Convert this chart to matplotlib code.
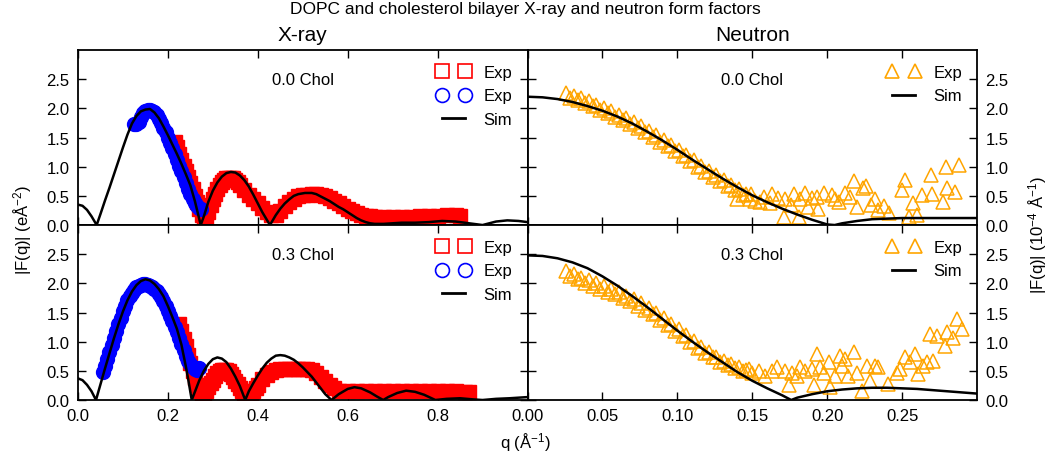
import numpy as np
import matplotlib.pyplot as plt
from matplotlib.lines import Line2D

plt.rcParams['font.family'] = ['Liberation Sans', 'DejaVu Sans']
plt.rcParams['mathtext.fontset'] = 'custom'
plt.rcParams['mathtext.rm'] = 'Liberation Sans'
plt.rcParams['mathtext.default'] = 'regular'
plt.rcParams['axes.linewidth'] = 1.3

# ---- X-ray, 0.0 Chol : (q, |F|) ----
xr0_red = [(0.215, 1.42), (0.22, 1.33), (0.225, 1.22), (0.23, 1.12), (0.235, 1.02), (0.24, 0.92),
           (0.245, 0.82), (0.25, 0.72), (0.255, 0.61), (0.26, 0.50), (0.265, 0.39), (0.27, 0.28),
           (0.275, 0.18), (0.28, 0.10), (0.285, 0.13), (0.29, 0.23), (0.295, 0.34), (0.30, 0.44),
           (0.305, 0.53), (0.31, 0.61), (0.315, 0.68), (0.32, 0.73), (0.325, 0.77), (0.33, 0.80),
           (0.335, 0.81), (0.34, 0.81), (0.345, 0.80), (0.35, 0.77), (0.355, 0.73), (0.36, 0.68),
           (0.37, 0.60), (0.38, 0.52), (0.39, 0.44), (0.40, 0.37), (0.41, 0.29), (0.42, 0.22),
           (0.43, 0.17), (0.44, 0.18), (0.45, 0.24), (0.46, 0.32), (0.47, 0.39), (0.48, 0.45),
           (0.49, 0.49), (0.50, 0.51), (0.51, 0.52), (0.52, 0.53), (0.53, 0.53), (0.54, 0.52),
           (0.55, 0.50), (0.56, 0.46), (0.57, 0.42), (0.58, 0.37), (0.59, 0.32), (0.60, 0.28),
           (0.61, 0.24), (0.62, 0.21), (0.63, 0.18), (0.64, 0.16), (0.65, 0.15), (0.66, 0.14),
           (0.68, 0.14), (0.70, 0.14), (0.72, 0.14), (0.74, 0.14), (0.76, 0.15), (0.78, 0.15),
           (0.80, 0.16), (0.82, 0.17), (0.84, 0.17), (0.85, 0.16)]
xr0_blue = [(0.125, 1.74), (0.13, 1.74), (0.135, 1.77), (0.14, 1.85), (0.145, 1.92), (0.15, 1.96),
            (0.155, 1.98), (0.16, 1.98), (0.165, 1.96), (0.17, 1.93), (0.175, 1.88), (0.18, 1.82),
            (0.185, 1.75), (0.19, 1.67), (0.195, 1.59), (0.20, 1.50), (0.205, 1.41), (0.21, 1.32),
            (0.215, 1.22), (0.22, 1.12), (0.225, 1.02), (0.23, 0.92), (0.235, 0.82), (0.24, 0.72),
            (0.245, 0.62), (0.25, 0.53), (0.255, 0.45), (0.26, 0.38), (0.265, 0.33), (0.27, 0.30),
            (0.273, 0.28)]
xr0_sim = [(0.0, 0.35), (0.01, 0.33), (0.02, 0.26), (0.03, 0.15), (0.0415, 0.0), (0.05, 0.19),
           (0.06, 0.42), (0.07, 0.64), (0.08, 0.87), (0.09, 1.10), (0.10, 1.33), (0.11, 1.55),
           (0.12, 1.74), (0.13, 1.87), (0.14, 1.95), (0.15, 1.98), (0.16, 1.99), (0.17, 1.93),
           (0.18, 1.83), (0.19, 1.69), (0.20, 1.54), (0.21, 1.38), (0.22, 1.22), (0.23, 1.05),
           (0.24, 0.87), (0.25, 0.68), (0.26, 0.41), (0.273, 0.0), (0.28, 0.15), (0.29, 0.40),
           (0.30, 0.59), (0.31, 0.73), (0.32, 0.83), (0.33, 0.89), (0.34, 0.91), (0.35, 0.90),
           (0.36, 0.85), (0.37, 0.77), (0.38, 0.66), (0.39, 0.52), (0.40, 0.37), (0.41, 0.22),
           (0.427, 0.0), (0.44, 0.17), (0.45, 0.28), (0.46, 0.37), (0.47, 0.44), (0.48, 0.50),
           (0.49, 0.53), (0.505, 0.55), (0.52, 0.55), (0.53, 0.53), (0.54, 0.49), (0.55, 0.45),
           (0.56, 0.41), (0.57, 0.36), (0.58, 0.31), (0.59, 0.27), (0.60, 0.22), (0.61, 0.17),
           (0.62, 0.12), (0.63, 0.08), (0.64, 0.05), (0.65, 0.03), (0.66, 0.02), (0.68, 0.02),
           (0.72, 0.04), (0.75, 0.04), (0.78, 0.05), (0.81, 0.07), (0.84, 0.06), (0.87, 0.03),
           (0.90, 0.0), (0.93, 0.06), (0.955, 0.08), (0.98, 0.07), (1.0, 0.05)]

# ---- X-ray, 0.3 Chol ----
xr3_red = [(0.225, 1.30), (0.23, 1.18), (0.235, 1.05), (0.24, 0.92), (0.245, 0.78), (0.25, 0.64),
           (0.255, 0.50), (0.26, 0.37), (0.265, 0.25), (0.27, 0.15), (0.275, 0.10), (0.28, 0.11),
           (0.285, 0.16), (0.29, 0.22), (0.295, 0.29), (0.30, 0.35), (0.305, 0.41), (0.31, 0.46),
           (0.315, 0.49), (0.32, 0.51), (0.325, 0.52), (0.33, 0.51), (0.335, 0.49), (0.34, 0.45),
           (0.345, 0.39), (0.35, 0.33), (0.355, 0.27), (0.36, 0.21), (0.365, 0.16), (0.37, 0.12),
           (0.375, 0.10), (0.38, 0.09), (0.385, 0.11), (0.39, 0.15), (0.395, 0.20), (0.40, 0.26),
           (0.41, 0.36), (0.42, 0.43), (0.43, 0.48), (0.44, 0.51), (0.45, 0.53), (0.46, 0.54),
           (0.47, 0.54), (0.48, 0.54), (0.49, 0.54), (0.50, 0.54), (0.51, 0.53), (0.52, 0.51),
           (0.53, 0.46), (0.54, 0.40), (0.55, 0.33), (0.56, 0.26), (0.57, 0.20), (0.58, 0.16),
           (0.60, 0.15), (0.62, 0.15), (0.64, 0.15), (0.66, 0.15), (0.68, 0.15), (0.70, 0.15),
           (0.72, 0.15), (0.74, 0.16), (0.76, 0.16), (0.78, 0.16), (0.80, 0.15), (0.82, 0.15),
           (0.84, 0.15), (0.86, 0.14), (0.87, 0.13)]
xr3_blue = [(0.055, 0.48), (0.06, 0.58), (0.065, 0.70), (0.07, 0.82), (0.075, 0.94), (0.08, 1.06),
            (0.085, 1.18), (0.09, 1.30), (0.095, 1.41), (0.10, 1.52), (0.105, 1.62), (0.11, 1.71),
            (0.115, 1.78), (0.12, 1.84), (0.125, 1.89), (0.13, 1.93), (0.135, 1.96), (0.14, 1.98),
            (0.145, 1.99), (0.15, 1.99), (0.155, 1.98), (0.16, 1.96), (0.165, 1.94), (0.17, 1.91),
            (0.175, 1.87), (0.18, 1.82), (0.185, 1.76), (0.19, 1.69), (0.195, 1.61), (0.20, 1.53),
            (0.205, 1.44), (0.21, 1.35), (0.215, 1.26), (0.22, 1.17), (0.225, 1.07), (0.23, 0.96),
            (0.235, 0.85), (0.24, 0.75), (0.245, 0.67), (0.25, 0.61), (0.255, 0.56), (0.26, 0.53),
            (0.265, 0.52), (0.27, 0.55)]
xr3_sim = [(0.0, 0.37), (0.01, 0.34), (0.02, 0.26), (0.03, 0.15), (0.04, 0.0), (0.05, 0.27),
           (0.06, 0.54), (0.07, 0.80), (0.08, 1.06), (0.09, 1.30), (0.10, 1.52), (0.11, 1.71),
           (0.12, 1.86), (0.13, 1.97), (0.14, 2.04), (0.15, 2.07), (0.16, 2.05), (0.17, 1.99),
           (0.18, 1.90), (0.19, 1.78), (0.20, 1.61), (0.21, 1.42), (0.22, 1.22), (0.23, 0.95),
           (0.24, 0.57), (0.245, 0.36), (0.253, 0.0), (0.26, 0.14), (0.27, 0.34), (0.28, 0.50),
           (0.29, 0.62), (0.30, 0.70), (0.31, 0.73), (0.32, 0.71), (0.33, 0.65), (0.34, 0.54),
           (0.35, 0.40), (0.36, 0.24), (0.372, 0.0), (0.38, 0.15), (0.39, 0.29), (0.40, 0.42),
           (0.41, 0.54), (0.42, 0.64), (0.43, 0.71), (0.44, 0.76), (0.45, 0.77), (0.46, 0.76),
           (0.47, 0.73), (0.48, 0.69), (0.49, 0.63), (0.50, 0.56), (0.51, 0.48), (0.52, 0.40),
           (0.53, 0.30), (0.54, 0.20), (0.55, 0.10), (0.564, 0.0), (0.58, 0.10), (0.60, 0.19),
           (0.615, 0.22), (0.63, 0.20), (0.65, 0.13), (0.665, 0.06), (0.679, 0.0), (0.69, 0.05),
           (0.71, 0.12), (0.73, 0.16), (0.75, 0.14), (0.77, 0.09), (0.795, 0.0), (0.82, 0.02),
           (0.85, 0.03), (0.88, 0.01), (0.90, 0.0), (0.93, 0.02), (0.96, 0.03), (1.0, 0.05)]

# ---- Neutron, 0.0 Chol ----
nt0_exp = [(0.026, 2.27), (0.0285, 2.18), (0.031, 2.22), (0.0335, 2.14), (0.036, 2.17), (0.0385, 2.09),
           (0.041, 2.12), (0.0435, 2.04), (0.046, 2.06), (0.0485, 1.98), (0.051, 2.01), (0.0535, 1.92),
           (0.056, 1.95), (0.0585, 1.86), (0.061, 1.89), (0.0635, 1.80), (0.066, 1.83), (0.0685, 1.73),
           (0.071, 1.76), (0.0735, 1.66), (0.076, 1.69), (0.0785, 1.59), (0.081, 1.62), (0.0835, 1.51),
           (0.086, 1.54), (0.0885, 1.43), (0.091, 1.46), (0.0935, 1.35), (0.096, 1.38), (0.0985, 1.27),
           (0.101, 1.29), (0.1035, 1.18), (0.106, 1.20), (0.1085, 1.09), (0.111, 1.11), (0.1135, 1.00),
           (0.116, 1.02), (0.1185, 0.91), (0.121, 0.93), (0.1235, 0.83), (0.126, 0.85), (0.1285, 0.75),
           (0.131, 0.77), (0.1335, 0.67), (0.136, 0.69), (0.1385, 0.60), (0.141, 0.61), (0.1435, 0.52),
           (0.146, 0.54), (0.1485, 0.45),
           (0.140, 0.45), (0.149, 0.54), (0.152, 0.42), (0.155, 0.40), (0.158, 0.48), (0.162, 0.37),
           (0.163, 0.54), (0.167, 0.46), (0.171, 0.14), (0.172, 0.45), (0.176, 0.34), (0.178, 0.54),
           (0.181, 0.13), (0.182, 0.45), (0.185, 0.55), (0.187, 0.31), (0.190, 0.46), (0.193, 0.48),
           (0.194, 0.28), (0.198, 0.55), (0.203, 0.51), (0.205, 0.44), (0.208, 0.40), (0.212, 0.55),
           (0.215, 0.48), (0.218, 0.76), (0.220, 0.31), (0.224, 0.63), (0.226, 0.67), (0.229, 0.34),
           (0.232, 0.45), (0.234, 0.25), (0.238, 0.33), (0.241, 0.20), (0.250, 0.60), (0.252, 0.77),
           (0.2545, 0.14), (0.257, 0.37), (0.260, 0.17), (0.263, 0.51), (0.269, 0.86), (0.270, 0.54),
           (0.277, 0.40), (0.279, 0.99), (0.280, 0.63), (0.285, 0.57), (0.288, 1.03)]
nt0_sim = [(0.0, 2.20), (0.01, 2.19), (0.02, 2.16), (0.03, 2.11), (0.04, 2.04), (0.05, 1.96),
           (0.06, 1.86), (0.07, 1.74), (0.08, 1.60), (0.09, 1.45), (0.10, 1.29), (0.11, 1.12),
           (0.12, 0.96), (0.13, 0.80), (0.14, 0.65), (0.15, 0.51), (0.16, 0.39), (0.17, 0.28),
           (0.18, 0.18), (0.19, 0.09), (0.20, 0.01), (0.205, 0.0), (0.21, 0.03), (0.22, 0.07),
           (0.23, 0.10), (0.24, 0.11), (0.25, 0.12), (0.26, 0.12), (0.27, 0.12), (0.28, 0.12),
           (0.29, 0.12), (0.30, 0.12)]

# ---- Neutron, 0.3 Chol ----
nt3_exp = [(0.026, 2.22), (0.0285, 2.13), (0.031, 2.16), (0.0335, 2.07), (0.036, 2.10), (0.0385, 2.01),
           (0.041, 2.05), (0.0435, 1.96), (0.046, 2.00), (0.0485, 1.91), (0.051, 1.95), (0.0535, 1.86),
           (0.056, 1.90), (0.0585, 1.81), (0.061, 1.85), (0.0635, 1.75), (0.066, 1.79), (0.0685, 1.69),
           (0.071, 1.73), (0.0735, 1.62), (0.076, 1.66), (0.0785, 1.55), (0.081, 1.58), (0.0835, 1.47),
           (0.086, 1.50), (0.0885, 1.38), (0.091, 1.41), (0.0935, 1.29), (0.096, 1.31), (0.0985, 1.19),
           (0.101, 1.21), (0.1035, 1.09), (0.106, 1.11), (0.1085, 0.99), (0.111, 1.01), (0.1135, 0.90),
           (0.116, 0.91), (0.1185, 0.81), (0.121, 0.82), (0.1235, 0.73), (0.126, 0.74), (0.1285, 0.66),
           (0.131, 0.67), (0.1335, 0.60), (0.136, 0.61), (0.1385, 0.55), (0.141, 0.56), (0.1435, 0.50),
           (0.146, 0.51),
           (0.1476, 0.53), (0.1498, 0.47), (0.1542, 0.50), (0.1587, 0.42), (0.1631, 0.50), (0.1664, 0.56),
           (0.172, 0.50), (0.1742, 0.25), (0.1764, 0.47), (0.1798, 0.42), (0.182, 0.56), (0.1853, 0.50),
           (0.1898, 0.53), (0.1909, 0.25), (0.1931, 0.79), (0.1953, 0.56), (0.1976, 0.47), (0.2009, 0.65),
           (0.202, 0.22), (0.2053, 0.42), (0.2087, 0.76), (0.2098, 0.59), (0.212, 0.70), (0.2142, 0.42),
           (0.2176, 0.82), (0.2198, 0.47), (0.2231, 0.16), (0.2264, 0.59), (0.2287, 0.33), (0.232, 0.59),
           (0.2342, 0.56), (0.2409, 0.27), (0.2464, 0.47), (0.2487, 0.53), (0.252, 0.73), (0.2553, 0.65),
           (0.2587, 0.79), (0.2609, 0.45), (0.2642, 0.59), (0.2664, 0.65), (0.2709, 0.67), (0.2687, 1.13),
           (0.2731, 1.10), (0.2787, 0.93), (0.2798, 1.16), (0.2842, 1.07), (0.2864, 1.39), (0.2898, 1.22)]
nt3_sim = [(0.0, 2.48), (0.01, 2.47), (0.02, 2.43), (0.03, 2.36), (0.04, 2.26), (0.05, 2.12),
           (0.06, 1.96), (0.07, 1.78), (0.08, 1.59), (0.09, 1.39), (0.10, 1.19), (0.11, 1.00),
           (0.12, 0.82), (0.13, 0.65), (0.14, 0.48), (0.15, 0.33), (0.16, 0.20), (0.17, 0.08),
           (0.176, 0.0), (0.18, 0.04), (0.19, 0.10), (0.20, 0.15), (0.21, 0.18), (0.22, 0.20),
           (0.23, 0.21), (0.24, 0.21), (0.25, 0.20), (0.26, 0.19), (0.27, 0.17), (0.28, 0.15),
           (0.29, 0.13), (0.30, 0.11)]

chol_labels = ['0.0 Chol', '0.3 Chol']
col_titles = ['X-ray', 'Neutron']


def unpack(pairs):
    arr = np.array(pairs)
    return arr[:, 0], arr[:, 1]


fig, ax = plt.subplots(2, 2, figsize=(10.5, 4.56), dpi=100)
fig.subplots_adjust(left=0.0743, right=0.9305, top=0.888, bottom=0.1206, wspace=0, hspace=0)

xray_sets = [(xr0_red, xr0_blue, xr0_sim), (xr3_red, xr3_blue, xr3_sim)]
neut_sets = [(nt0_exp, nt0_sim), (nt3_exp, nt3_sim)]

xray_handles = [Line2D([], [], ls='none', marker='s', ms=10, mfc='none', mec='red', mew=1.2),
                Line2D([], [], ls='none', marker='o', ms=10, mfc='none', mec='blue', mew=1.2),
                Line2D([], [], color='k', lw=2)]
neut_handles = [Line2D([], [], ls='none', marker='^', ms=10, mfc='none', mec='orange', mew=1.2),
                Line2D([], [], color='k', lw=2)]

for i in range(2):
    # X-ray column
    a = ax[i, 0]
    red, blue, sim = xray_sets[i]
    q, f = unpack(red)
    a.plot(q, f, ls='none', marker='s', ms=10, mfc='red', mec='red', mew=1)
    q, f = unpack(blue)
    a.plot(q, f, ls='none', marker='o', ms=10, mfc='blue', mec='blue', mew=1)
    q, f = unpack(sim)
    a.plot(q, f, color='k', lw=1.8)
    a.set_xlim(0, 1.0)
    a.set_xticks([0.0, 0.2, 0.4, 0.6, 0.8])
    a.legend(xray_handles, ['Exp', 'Exp', 'Sim'], loc='upper right', frameon=False,
             numpoints=2, fontsize=12)

    # Neutron column
    a = ax[i, 1]
    exp, sim = neut_sets[i]
    q, f = unpack(exp)
    a.plot(q, f, ls='none', marker='^', ms=10, mfc='none', mec='orange', mew=1.1)
    q, f = unpack(sim)
    a.plot(q, f, color='k', lw=1.8)
    a.set_xlim(0, 0.3)
    a.set_xticks([0.0, 0.05, 0.10, 0.15, 0.20, 0.25])
    a.legend(neut_handles, ['Exp', 'Sim'], loc='upper right', frameon=False,
             numpoints=2, fontsize=12)

for i in range(2):
    for j in range(2):
        a = ax[i, j]
        a.set_ylim(0, 3.0)
        a.set_yticks([0.0, 0.5, 1.0, 1.5, 2.0, 2.5])
        a.tick_params(direction='in', top=True, right=True, length=6, width=1,
                      labelsize=12, pad=6)
        a.text(0.5, 0.83, chol_labels[i], transform=a.transAxes, ha='center', va='center',
               fontsize=12)
        if i == 0:
            a.tick_params(labelbottom=False)
        if j == 1:
            a.tick_params(labelleft=False, labelright=True)

for j in range(2):
    ax[0, j].set_title(col_titles[j], fontsize=15, pad=7)

fig.suptitle('DOPC and cholesterol bilayer X-ray and neutron form factors', fontsize=12.5, y=0.995)
fig.text(0.022, 0.495, '|F(q)| (eÅ$^{-2}$)', rotation=90, ha='center', va='center', fontsize=12)
fig.text(0.988, 0.485, '|F(q)| (10$^{-4}$ Å$^{-1}$)', rotation=90, ha='center', va='center', fontsize=12)
fig.text(0.5, 0.03, 'q (Å$^{-1}$)', ha='center', va='center', fontsize=12)

fig.savefig('out.png', dpi=100)
